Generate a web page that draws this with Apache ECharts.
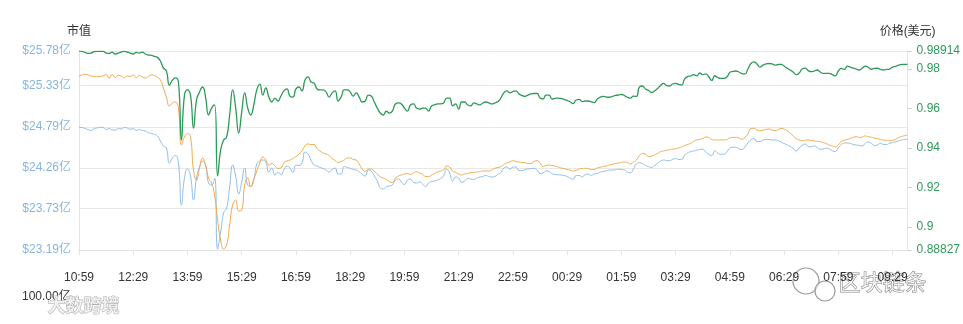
<!DOCTYPE html>
<html>
<head>
<meta charset="utf-8">
<script src="https://cdn.jsdelivr.net/npm/echarts@6/dist/echarts.min.js"></script>
<style>
html,body{margin:0;padding:0;background:#fff;}
#chart{width:963px;height:324px;}
</style>
</head>
<body>
<div id="chart"></div>
<script>
// time categories: 5-minute steps starting 10:59
const startTime = '10:59';
const pointCount = 276;
const times = [];
(function(){
  const p = startTime.split(':');
  let m = parseInt(p[0],10)*60 + parseInt(p[1],10);
  for (let i = 0; i < pointCount; i++) {
    const t = (m + i*5) % 1440;
    const h = Math.floor(t/60), mm = t % 60;
    times.push((h<10?'0':'')+h+':'+(mm<10?'0':'')+mm);
  }
})();

// market cap (亿美元), blue line
const capBlue = [
24.787,24.784,24.771,24.758,24.745,24.771,24.778,24.787,24.784,24.758,
24.771,24.752,24.752,24.771,24.765,24.784,24.778,24.761,24.771,24.745,
24.758,24.745,24.739,24.717,24.706,24.696,24.674,24.609,24.544,24.518,
24.322,24.387,24.420,24.322,23.776,24.127,24.244,24.153,23.841,24.127,
24.270,24.348,24.296,24.062,24.036,24.127,23.200,23.424,23.672,23.737,
24.010,24.296,24.153,23.919,24.075,24.257,24.036,24.023,24.101,24.309,
24.348,24.361,24.335,24.205,24.257,24.166,24.205,24.173,24.231,24.283,
24.257,24.199,24.296,24.290,24.322,24.465,24.439,24.361,24.296,24.283,
24.264,24.251,24.231,24.205,24.238,24.257,24.179,24.179,24.277,24.264,
24.253,24.238,24.231,24.209,24.173,24.153,24.231,24.218,24.153,24.088,
23.997,23.984,24.014,24.023,24.036,24.101,24.114,24.075,24.042,24.101,
24.114,24.069,24.062,24.075,24.049,24.016,24.062,24.082,24.088,24.101,
24.121,24.153,24.244,24.192,24.088,24.140,24.127,24.069,24.088,24.121,
24.114,24.108,24.127,24.140,24.147,24.160,24.147,24.140,24.147,24.173,
24.199,24.257,24.270,24.238,24.270,24.270,24.225,24.225,24.238,24.244,
24.251,24.253,24.231,24.186,24.192,24.218,24.212,24.183,24.173,24.169,
24.166,24.160,24.147,24.127,24.110,24.160,24.160,24.140,24.173,24.179,
24.160,24.179,24.186,24.205,24.212,24.221,24.231,24.231,24.235,24.240,
24.238,24.231,24.205,24.192,24.244,24.309,24.326,24.316,24.290,24.277,
24.264,24.290,24.318,24.348,24.361,24.355,24.352,24.370,24.381,24.368,
24.368,24.426,24.456,24.469,24.479,24.489,24.498,24.502,24.469,24.433,
24.420,24.479,24.452,24.436,24.437,24.465,24.518,24.527,24.527,24.505,
24.498,24.531,24.583,24.624,24.641,24.602,24.602,24.622,24.628,24.628,
24.622,24.622,24.615,24.598,24.576,24.557,24.537,24.511,24.479,24.518,
24.550,24.570,24.537,24.533,24.544,24.524,24.501,24.505,24.514,24.505,
24.482,24.472,24.518,24.563,24.583,24.583,24.576,24.563,24.557,24.550,
24.544,24.583,24.596,24.579,24.550,24.557,24.579,24.563,24.563,24.579,
24.589,24.600,24.609,24.622,24.628,24.631
];

// second market-cap line (亿美元), orange
const capOrange = [
25.455,25.468,25.477,25.468,25.455,25.448,25.446,25.448,25.455,25.474,
25.425,25.474,25.435,25.461,25.455,25.432,25.455,25.448,25.468,25.432,
25.461,25.442,25.429,25.448,25.468,25.461,25.442,25.403,25.298,25.181,
25.064,25.103,25.116,25.025,24.557,24.661,24.706,24.661,24.231,24.101,
24.257,24.387,24.296,24.127,24.062,23.906,23.580,23.320,23.203,23.255,
23.515,23.776,23.841,23.698,23.711,24.036,24.127,24.010,24.114,24.218,
24.322,24.400,24.361,24.296,24.316,24.283,24.253,24.257,24.322,24.348,
24.361,24.381,24.407,24.439,24.479,24.544,24.570,24.563,24.563,24.511,
24.479,24.452,24.439,24.420,24.381,24.355,24.329,24.342,24.361,24.387,
24.387,24.368,24.361,24.309,24.244,24.212,24.244,24.244,24.212,24.179,
24.140,24.127,24.108,24.079,24.069,24.127,24.153,24.166,24.179,24.186,
24.173,24.192,24.209,24.192,24.179,24.147,24.147,24.166,24.186,24.205,
24.218,24.231,24.283,24.270,24.218,24.199,24.179,24.166,24.179,24.188,
24.196,24.199,24.205,24.212,24.218,24.218,24.218,24.231,24.253,24.264,
24.274,24.303,24.322,24.335,24.352,24.342,24.335,24.329,24.326,24.316,
24.316,24.342,24.352,24.322,24.274,24.290,24.296,24.290,24.283,24.270,
24.257,24.251,24.238,24.231,24.218,24.227,24.244,24.251,24.253,24.251,
24.238,24.238,24.257,24.266,24.277,24.283,24.296,24.305,24.316,24.322,
24.329,24.335,24.329,24.309,24.335,24.361,24.420,24.446,24.439,24.407,
24.413,24.426,24.446,24.469,24.479,24.488,24.495,24.502,24.508,24.518,
24.531,24.550,24.563,24.579,24.602,24.622,24.631,24.641,24.661,24.654,
24.628,24.622,24.622,24.622,24.622,24.628,24.648,24.654,24.657,24.648,
24.631,24.654,24.700,24.771,24.774,24.752,24.743,24.749,24.758,24.765,
24.752,24.745,24.758,24.771,24.765,24.743,24.713,24.674,24.641,24.622,
24.613,24.618,24.622,24.615,24.609,24.605,24.600,24.589,24.574,24.557,
24.544,24.531,24.557,24.602,24.618,24.628,24.644,24.657,24.665,24.654,
24.661,24.674,24.665,24.657,24.648,24.641,24.631,24.622,24.618,24.613,
24.618,24.631,24.654,24.667,24.678,24.687
];

// price (美元), green line
const priceGreen = [
0.9891,0.9889,0.9884,0.9879,0.9881,0.9888,0.9890,0.9890,0.9889,0.9881,
0.9879,0.9886,0.9876,0.9881,0.9886,0.9890,0.9886,0.9881,0.9876,0.9884,
0.9881,0.9886,0.9876,0.9871,0.9869,0.9864,0.9859,0.9841,0.9805,0.9790,
0.9719,0.9744,0.9755,0.9734,0.9440,0.9668,0.9694,0.9668,0.9501,0.9643,
0.9684,0.9709,0.9658,0.9567,0.9602,0.9618,0.9258,0.9389,0.9440,0.9455,
0.9567,0.9694,0.9602,0.9476,0.9582,0.9679,0.9602,0.9567,0.9618,0.9694,
0.9724,0.9668,0.9704,0.9658,0.9633,0.9653,0.9638,0.9663,0.9689,0.9699,
0.9663,0.9658,0.9699,0.9709,0.9689,0.9744,0.9760,0.9734,0.9729,0.9699,
0.9694,0.9694,0.9684,0.9658,0.9679,0.9689,0.9638,0.9658,0.9694,0.9694,
0.9684,0.9663,0.9679,0.9658,0.9633,0.9638,0.9668,0.9663,0.9633,0.9602,
0.9577,0.9567,0.9587,0.9577,0.9587,0.9623,0.9628,0.9623,0.9602,0.9587,
0.9618,0.9623,0.9602,0.9597,0.9602,0.9602,0.9587,0.9613,0.9618,0.9623,
0.9623,0.9628,0.9653,0.9653,0.9613,0.9623,0.9597,0.9633,0.9633,0.9618,
0.9613,0.9628,0.9623,0.9618,0.9628,0.9633,0.9628,0.9623,0.9628,0.9635,
0.9653,0.9679,0.9689,0.9679,0.9686,0.9689,0.9674,0.9666,0.9661,0.9668,
0.9674,0.9676,0.9676,0.9653,0.9648,0.9668,0.9668,0.9648,0.9651,0.9653,
0.9651,0.9646,0.9641,0.9633,0.9625,0.9643,0.9646,0.9635,0.9638,0.9638,
0.9633,0.9630,0.9648,0.9658,0.9661,0.9658,0.9657,0.9661,0.9666,0.9668,
0.9671,0.9666,0.9656,0.9653,0.9663,0.9661,0.9709,0.9714,0.9699,0.9691,
0.9681,0.9689,0.9701,0.9716,0.9727,0.9716,0.9714,0.9724,0.9727,0.9722,
0.9719,0.9750,0.9762,0.9765,0.9772,0.9765,0.9780,0.9772,0.9775,0.9762,
0.9742,0.9766,0.9757,0.9753,0.9753,0.9760,0.9783,0.9788,0.9790,0.9785,
0.9777,0.9775,0.9800,0.9828,0.9836,0.9826,0.9810,0.9820,0.9826,0.9828,
0.9826,0.9820,0.9823,0.9824,0.9815,0.9804,0.9795,0.9785,0.9772,0.9780,
0.9800,0.9805,0.9792,0.9787,0.9790,0.9795,0.9785,0.9778,0.9778,0.9778,
0.9772,0.9765,0.9790,0.9803,0.9798,0.9815,0.9810,0.9804,0.9800,0.9795,
0.9805,0.9815,0.9808,0.9799,0.9803,0.9804,0.9798,0.9795,0.9798,0.9800,
0.9810,0.9813,0.9820,0.9823,0.9824,0.9824
];

// axis ticks
const capTicks = [23.19, 23.73, 24.26, 24.79, 25.33, 25.78];
const priceTicks = [0.88827, 0.9, 0.92, 0.94, 0.96, 0.98, 0.98914];
const leftAxisName = '市值';
const rightAxisName = '价格(美元)';

const FONT = "'Liberation Sans', 'Noto Sans CJK SC', sans-serif";
const chart = echarts.init(document.getElementById('chart'), null, {renderer: 'canvas'});
chart.setOption({
  animation: false,
  backgroundColor: '#ffffff',
  textStyle: {fontFamily: FONT},
  grid: {left: 79, right: 54, top: 51, bottom: 74, containLabel: false},
  xAxis: {
    type: 'category',
    data: times,
    boundaryGap: false,
    axisLine: {show: true, lineStyle: {color: '#e3e3e3'}},
    axisTick: {show: true, interval: 17, length: 5, lineStyle: {color: '#e3e3e3'}},
    axisLabel: {interval: 17, margin: 22, color: '#333', fontSize: 12, fontFamily: FONT},
    splitLine: {show: false}
  },
  yAxis: [
    {
      type: 'value',
      min: capTicks[0],
      max: capTicks[capTicks.length - 1],
      name: leftAxisName,
      nameLocation: 'end',
      nameGap: 13,
      nameTextStyle: {color: '#333', fontSize: 12, fontFamily: FONT, align: 'center'},
      axisLine: {show: true, lineStyle: {color: '#e3e3e3'}},
      axisTick: {show: false, customValues: capTicks},
      axisLabel: {
        customValues: capTicks,
        color: '#86b6e0', fontSize: 12, margin: 8, fontFamily: FONT,
        formatter: function (v) { return '$' + v.toFixed(2) + '亿'; }
      },
      splitLine: {show: true, lineStyle: {color: '#e8e8e8'}}
    },
    {
      type: 'value',
      min: priceTicks[0],
      max: priceTicks[priceTicks.length - 1],
      name: rightAxisName,
      nameLocation: 'end',
      nameGap: 13,
      nameTextStyle: {color: '#333', fontSize: 12, fontFamily: FONT, align: 'center'},
      position: 'right',
      axisLine: {show: true, lineStyle: {color: '#e3e3e3'}},
      axisTick: {show: true, length: 4, customValues: priceTicks, lineStyle: {color: '#cfcfcf'}},
      axisLabel: {
        customValues: priceTicks,
        color: '#2f9a5c', fontSize: 12, margin: 9, fontFamily: FONT,
        formatter: function (v) { return String(v); }
      },
      splitLine: {show: false}
    }
  ],
  series: [
    {
      name: 'capBlue', type: 'line', yAxisIndex: 0, data: capBlue,
      showSymbol: false, smooth: true,
      lineStyle: {color: '#8fbde8', width: 1}, itemStyle: {color: '#8fbde8'}
    },
    {
      name: 'capOrange', type: 'line', yAxisIndex: 0, data: capOrange,
      showSymbol: false, smooth: true,
      lineStyle: {color: '#f2a94a', width: 1}, itemStyle: {color: '#f2a94a'}
    },
    {
      name: 'price', type: 'line', yAxisIndex: 1, data: priceGreen,
      showSymbol: false, smooth: true,
      lineStyle: {color: '#2e9a58', width: 1.3}, itemStyle: {color: '#2e9a58'}
    }
  ],
  graphic: [
    {type: 'text', left: 22, top: 291, style: {text: '100.00亿', fill: '#333', font: '12px ' + FONT}},
    {type: 'text', left: 47, top: 296, style: {text: '大数跨境', fill: 'rgba(240,240,240,0.85)', stroke: '#b5b5b5', lineWidth: 1, font: 'bold 18px "Noto Sans CJK SC"'}},
    {type: 'circle', shape: {cx: 806, cy: 281, r: 13}, style: {fill: 'rgba(255,255,255,0.75)', stroke: '#9a9a9a', lineWidth: 1.2}},
    {type: 'circle', shape: {cx: 825, cy: 291, r: 10}, style: {fill: 'rgba(255,255,255,0.75)', stroke: '#9a9a9a', lineWidth: 1.2}},
    {type: 'text', left: 838, top: 270, style: {text: '区块链条', fill: 'rgba(255,255,255,0.75)', stroke: '#8a8a8a', lineWidth: 1, font: '22px "Noto Sans CJK SC"'}}
  ]
});
</script>
</body>
</html>
